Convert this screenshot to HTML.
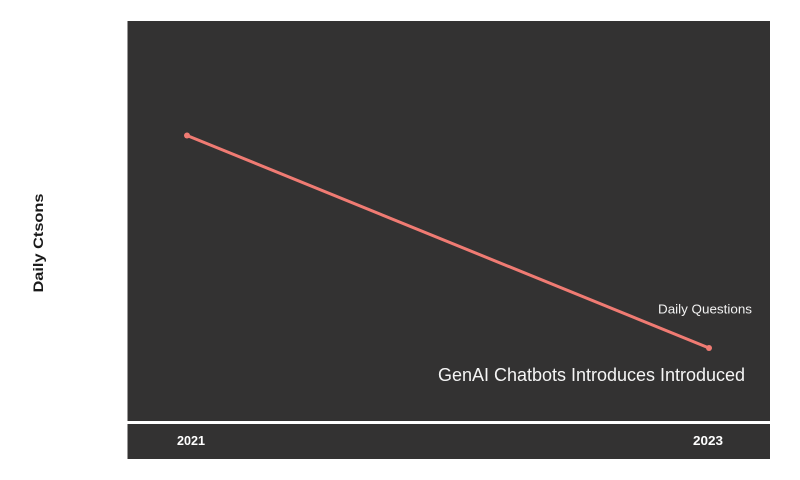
<!DOCTYPE html>
<html>
<head>
<meta charset="utf-8">
<style>
html,body{margin:0;padding:0;background:#ffffff;}
svg{display:block;}
</style>
</head>
<body>
<svg width="800" height="480" viewBox="0 0 800 480" xmlns="http://www.w3.org/2000/svg">
  <rect x="0" y="0" width="800" height="480" fill="#ffffff"/>
  <!-- main panel -->
  <rect x="127.5" y="21" width="642.5" height="400" fill="#333232"/>
  <!-- bottom band -->
  <rect x="127.5" y="424" width="642.5" height="35" fill="#333232"/>
  <!-- series line -->
  <line x1="187" y1="135.5" x2="709" y2="348" stroke="#f07b73" stroke-width="3" stroke-linecap="round"/>
  <circle cx="187" cy="135.5" r="3" fill="#f07b73"/>
  <circle cx="709" cy="348" r="3" fill="#f07b73"/>
  <!-- labels -->
  <text x="658" y="313.5" font-family="Liberation Sans, sans-serif" font-size="12.5" fill="#f2f2f2" textLength="94" lengthAdjust="spacingAndGlyphs">Daily Questions</text>
  <text x="438" y="381" font-family="Liberation Sans, sans-serif" font-size="18" fill="#f5f5f5" textLength="307" lengthAdjust="spacingAndGlyphs">GenAI Chatbots Introduces Introduced</text>
  <text x="177" y="445" font-family="Liberation Sans, sans-serif" font-size="12.5" font-weight="bold" fill="#ffffff" textLength="28" lengthAdjust="spacingAndGlyphs">2021</text>
  <text x="693" y="445" font-family="Liberation Sans, sans-serif" font-size="12.5" font-weight="bold" fill="#ffffff" textLength="30" lengthAdjust="spacingAndGlyphs">2023</text>
  <!-- y-axis label -->
  <text x="0" y="0" transform="translate(43,243) rotate(-90)" text-anchor="middle" font-family="Liberation Sans, sans-serif" font-size="14" font-weight="bold" fill="#1a1a1a" textLength="99" lengthAdjust="spacingAndGlyphs">Daily Ctsons</text>
</svg>
</body>
</html>
